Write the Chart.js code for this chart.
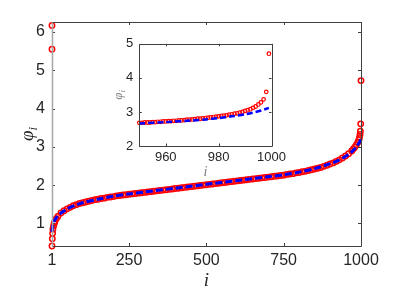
<!DOCTYPE html>
<html>
<head>
<meta charset="utf-8">
<script src="https://cdn.jsdelivr.net/npm/chart.js@4.4.0/dist/chart.umd.min.js"></script>
<style>
  html, body { margin: 0; padding: 0; background: #fff; }
  #wrap { position: relative; width: 399px; height: 294px; }
  #main { position: absolute; left: 0; top: 0; }
  #inset { position: absolute; left: 100px; top: 30px; }
</style>
</head>
<body>
<div id="wrap">
  <canvas id="main" width="399" height="294"></canvas>
  <canvas id="inset" width="190" height="155"></canvas>
</div>
<script>
// main panel: red circles (numerical), blue dashed (approximation)
const redI = [1, 1, 1, 2, 3, 4, 6, 8, 10, 15, 20, 30, 40, 50, 60, 70, 80, 90, 100,
  110, 120, 130, 140, 150, 160, 170, 180, 190, 200, 210, 220, 230, 240, 250,
  260, 270, 280, 290, 300, 310, 320, 330, 340, 350, 360, 370, 380, 390, 400,
  410, 420, 430, 440, 450, 460, 470, 480, 490, 500, 510, 520, 530, 540, 550,
  560, 570, 580, 590, 600, 610, 620, 630, 640, 650, 660, 670, 680, 690, 700,
  710, 720, 730, 740, 750, 760, 770, 780, 790, 800, 810, 820, 830, 840, 850,
  860, 870, 880, 890, 900, 910, 920, 930, 940, 950, 960, 970, 975, 980, 985,
  990, 993, 995, 997, 998, 999, 1000];
const redPhi = [6.17, 5.55, 0.41, 0.60, 0.74, 0.85, 0.93, 1.00, 1.04, 1.12, 1.18, 1.27, 1.33, 1.38, 1.42, 1.46, 1.49, 1.52, 1.54,
  1.56, 1.58, 1.60, 1.62, 1.63, 1.65, 1.66, 1.68, 1.69, 1.70, 1.72, 1.73, 1.74, 1.75, 1.76,
  1.77, 1.78, 1.79, 1.80, 1.81, 1.82, 1.83, 1.84, 1.85, 1.86, 1.87, 1.88, 1.89, 1.90, 1.91,
  1.92, 1.93, 1.94, 1.95, 1.96, 1.97, 1.98, 1.99, 2.00, 2.01, 2.02, 2.03, 2.04, 2.05, 2.06,
  2.07, 2.08, 2.09, 2.10, 2.11, 2.12, 2.13, 2.14, 2.15, 2.16, 2.17, 2.18, 2.19, 2.20, 2.21,
  2.22, 2.23, 2.24, 2.25, 2.26, 2.28, 2.29, 2.30, 2.32, 2.33, 2.35, 2.36, 2.38, 2.40, 2.42,
  2.44, 2.46, 2.49, 2.52, 2.55, 2.58, 2.62, 2.66, 2.71, 2.76, 2.82, 2.89, 2.94, 2.99, 3.05,
  3.12, 3.18, 3.24, 3.32, 3.41, 3.60, 4.73];
const blueI = [1, 3, 6, 10, 20, 30, 50, 75, 100, 150, 200, 250, 300, 400, 500,
  600, 700, 750, 800, 850, 900, 925, 950, 970, 985, 995, 1000];
const bluePhi = [0.78, 0.92, 1.02, 1.09, 1.20, 1.27, 1.38, 1.47, 1.54, 1.63, 1.71, 1.77, 1.82, 1.92, 2.02,
  2.12, 2.22, 2.27, 2.34, 2.43, 2.56, 2.64, 2.75, 2.87, 3.00, 3.12, 3.20];
const xTicks = [1, 250, 500, 750, 1000];
const yTicks = [1, 2, 3, 4, 5, 6];

// inset panel: last 50 values
const insetRedI = [950, 951, 952, 953, 954, 955, 956, 957, 958, 959, 960, 961, 962, 963, 964,
  965, 966, 967, 968, 969, 970, 971, 972, 973, 974, 975, 976, 977, 978, 979, 980, 981, 982,
  983, 984, 985, 986, 987, 988, 989, 990, 991, 992, 993, 994, 995, 996, 997, 998, 999];
const insetRedPhi = [2.68, 2.68, 2.69, 2.69, 2.69, 2.70, 2.70, 2.71, 2.71, 2.72, 2.72, 2.73, 2.73, 2.74, 2.74,
  2.75, 2.75, 2.76, 2.77, 2.77, 2.78, 2.79, 2.80, 2.80, 2.81, 2.82, 2.83, 2.84, 2.85, 2.86, 2.87, 2.88, 2.89,
  2.90, 2.92, 2.93, 2.95, 2.96, 2.98, 3.00, 3.03, 3.05, 3.08, 3.12, 3.16, 3.22, 3.28, 3.37, 3.59, 4.71];
const insetBlueI = [950, 960, 970, 975, 980, 985, 990, 993, 996, 999];
const insetBluePhi = [2.66, 2.70, 2.75, 2.78, 2.82, 2.87, 2.93, 2.98, 3.04, 3.12];
const insetXTicks = [960, 980, 1000];
const insetYTicks = [2, 3, 4, 5];

const pairs = (xs, ys) => xs.map((v, k) => ({ x: v, y: ys[k] }));

// draws phi with subscript i, optionally rotated
function drawPhiLabel(ctx, cx, cy, size, color, rotate) {
  ctx.save();
  ctx.translate(cx, cy);
  if (rotate) ctx.rotate(-Math.PI / 2);
  ctx.fillStyle = color;
  ctx.textBaseline = 'alphabetic';
  const big = `italic ${size}px "Liberation Serif"`;
  const small = `italic ${Math.round(size * 0.68)}px "Liberation Serif"`;
  ctx.font = big;
  const w = ctx.measureText('φ').width;
  ctx.font = small;
  const ws = ctx.measureText('i').width;
  const x0 = -(w + ws) / 2;
  ctx.font = big;
  ctx.fillText('φ', x0, size * 0.3);
  ctx.font = small;
  ctx.fillText('i', x0 + w, size * 0.5);
  ctx.restore();
}

// MATLAB-style box with inward ticks and axis labels
const boxPlugin = {
  id: 'box',
  beforeDraw(chart, args, opts) {
    const { ctx, chartArea: a } = chart;
    ctx.save();
    ctx.fillStyle = '#fff';
    ctx.fillRect(a.left, a.top, a.width, a.height);
    ctx.restore();
  },
  afterDraw(chart, args, opts) {
    const { ctx, chartArea: a, scales: { x, y } } = chart;
    const len = opts.tickLen;
    ctx.save();
    ctx.lineWidth = 1;
    ctx.strokeStyle = opts.color;
    const seg = (x1, y1, x2, y2) => { ctx.beginPath(); ctx.moveTo(x1, y1); ctx.lineTo(x2, y2); ctx.stroke(); };
    x.ticks.forEach(t => {
      const px = Math.round(x.getPixelForValue(t.value)) + 0.5;
      seg(px, a.bottom, px, a.bottom - len);
      seg(px, a.top, px, a.top + len);
    });
    y.ticks.forEach(t => {
      const py = Math.round(y.getPixelForValue(t.value)) + 0.5;
      seg(a.left, py, a.left + len, py);
      seg(a.right, py, a.right - len, py);
    });
    const L = Math.round(a.left) + 0.5, R = Math.round(a.right) + 0.5;
    const T = Math.round(a.top) + 0.5, B = Math.round(a.bottom) + 0.5;
    seg(L, B, R, B); seg(R, B, R, T); seg(R, T, L, T);
    ctx.strokeStyle = opts.leftColor;
    ctx.lineWidth = opts.leftWidth;
    seg(L, B, L, T);
    ctx.restore();

    const xl = opts.xLabel;
    ctx.save();
    ctx.fillStyle = opts.labelColor;
    ctx.font = `italic ${xl.size}px "Liberation Serif"`;
    ctx.textAlign = 'center';
    ctx.textBaseline = 'middle';
    ctx.fillText('i', (a.left + a.right) / 2, xl.y);
    ctx.restore();
    drawPhiLabel(ctx, opts.yLabel.x, (a.top + a.bottom) / 2, opts.yLabel.size, opts.labelColor, true);
  }
};

function makeChart(el, cfg) {
  return new Chart(el, {
    type: 'scatter',
    data: {
      datasets: [
        {
          data: pairs(cfg.blueX, cfg.blueY),
          showLine: true,
          borderColor: '#0000ff',
          borderWidth: cfg.lineWidth,
          borderDash: cfg.dash,
          pointRadius: 0,
          tension: 0.3,
          clip: false
        },
        {
          data: pairs(cfg.redX, cfg.redY),
          pointStyle: 'circle',
          pointRadius: cfg.markR,
          pointBorderWidth: cfg.markW,
          pointBorderColor: '#ff0000',
          pointBackgroundColor: 'rgba(0,0,0,0)',
          clip: false
        }
      ]
    },
    options: {
      responsive: false,
      animation: false,
      events: [],
      layout: { padding: cfg.padding },
      plugins: {
        legend: { display: false },
        tooltip: { enabled: false },
        box: cfg.box
      },
      scales: {
        x: {
          type: 'linear',
          min: cfg.xMin, max: cfg.xMax,
          afterBuildTicks: s => { s.ticks = cfg.xTicks.map(v => ({ value: v })); },
          afterFit: s => { s.height = cfg.xHeight; },
          grid: { display: false, drawTicks: false },
          border: { display: false },
          ticks: { color: '#262626', padding: cfg.xPad, maxRotation: 0, autoSkip: false,
                   font: { family: 'Liberation Sans', size: cfg.fontSize },
                   callback: v => String(v) }
        },
        y: {
          type: 'linear',
          min: cfg.yMin, max: cfg.yMax,
          afterBuildTicks: s => { s.ticks = cfg.yTicks.map(v => ({ value: v })); },
          afterFit: s => { s.width = cfg.yWidth; },
          grid: { display: false, drawTicks: false },
          border: { display: false },
          ticks: { color: '#262626', padding: cfg.yPad, autoSkip: false,
                   font: { family: 'Liberation Sans', size: cfg.fontSize },
                   callback: v => String(v) }
        }
      }
    },
    plugins: [boxPlugin]
  });
}

makeChart(document.getElementById('main'), {
  redX: redI, redY: redPhi, blueX: blueI, blueY: bluePhi,
  xTicks: xTicks, yTicks: yTicks,
  xMin: 1, xMax: 1000, yMin: 0.41, yMax: 6.26,
  padding: { left: 0, right: 38, top: 22, bottom: 0 },
  xHeight: 48, yWidth: 52, xPad: 5, yPad: 7, fontSize: 16,
  lineWidth: 3, dash: [7, 3], markR: 2.7, markW: 1.5,
  box: { tickLen: 3, color: '#404040', leftColor: '#a6a6a6', leftWidth: 1.5,
         labelColor: '#262626', xLabel: { y: 281, size: 19 }, yLabel: { x: 27, size: 19 } }
});

makeChart(document.getElementById('inset'), {
  redX: insetRedI, redY: insetRedPhi, blueX: insetBlueI, blueY: insetBluePhi,
  xTicks: insetXTicks, yTicks: insetYTicks,
  xMin: 950, xMax: 1000, yMin: 2, yMax: 5,
  padding: { left: 0, right: 10.7, top: 13.3, bottom: 0 },
  xHeight: 39, yWidth: 39.3, xPad: 4, yPad: 6, fontSize: 13,
  lineWidth: 2.5, dash: [6, 3], markR: 1.8, markW: 1.2,
  box: { tickLen: 2.5, color: '#404040', leftColor: '#404040', leftWidth: 1,
         labelColor: '#808080', xLabel: { y: 142.7, size: 14 }, yLabel: { x: 18, size: 13 } }
});
</script>
</body>
</html>
